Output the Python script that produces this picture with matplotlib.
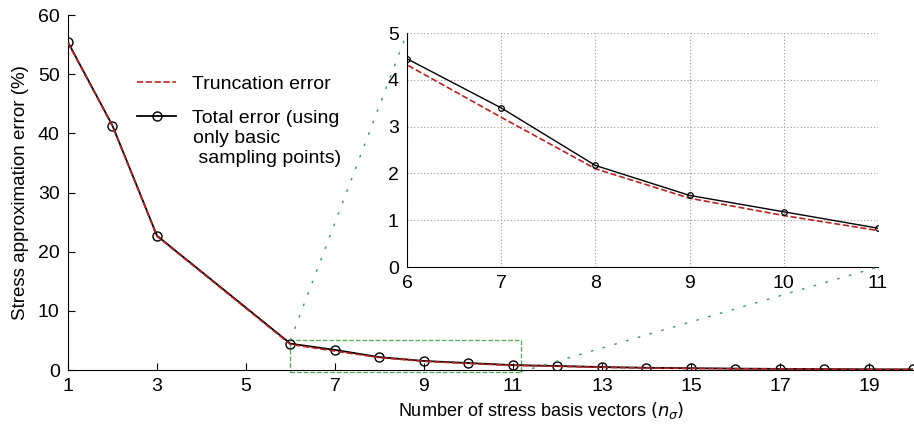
import numpy as np
import matplotlib.pyplot as plt
from matplotlib.patches import Rectangle, ConnectionPatch

plt.rcParams['font.family'] = ['Liberation Sans', 'DejaVu Sans']

n_sigma = [1, 2, 3, 6, 7, 8, 9, 10, 11, 12, 13, 14, 15, 16, 17, 18, 19, 20]
total_err = [55.4, 41.3, 22.7, 4.45, 3.4, 2.17, 1.53, 1.18, 0.83, 0.68, 0.5,
             0.38, 0.3, 0.24, 0.19, 0.15, 0.12, 0.1]
trunc_err = [55.3, 41.2, 22.6, 4.32, 3.2, 2.1, 1.47, 1.1, 0.78, 0.62, 0.45,
             0.34, 0.27, 0.21, 0.17, 0.13, 0.1, 0.08]
xticks_main = [1, 3, 5, 7, 9, 11, 13, 15, 17, 19]
yticks_main = [0, 10, 20, 30, 40, 50, 60]

fig = plt.figure(figsize=(9.14, 4.29), dpi=100)
ax = fig.add_axes([0.0744, 0.1375, 0.925, 0.8275])

ax.plot(n_sigma, total_err, '-', color='black', lw=1.3, marker='o', ms=6.5,
        mfc='none', mec='black', mew=1.0, zorder=3,
        label='Total error (using')
ax.plot(n_sigma, trunc_err, '--', color='#c0201e', lw=1.2, zorder=4,
        label='Truncation error')

ax.set_xlim(1, 20)
ax.set_ylim(0, 60)
ax.set_xticks(xticks_main)
ax.set_yticks(yticks_main)
ax.spines['top'].set_visible(False)
ax.spines['right'].set_visible(False)
ax.tick_params(direction='in', length=5, labelsize=14, pad=6)
ax.set_ylabel('Stress approximation error (%)', fontsize=13.5, labelpad=6)
ax.set_xlabel(r'Number of stress basis vectors $(n_\sigma)$', fontsize=13)
ax.xaxis.set_label_coords(0.56, -0.085)

h, l = ax.get_legend_handles_labels()
ax.legend([h[1], h[0]], [l[1], l[0]], loc='upper left', bbox_to_anchor=(0.061, 0.88),
          frameon=False, fontsize=14, handlelength=2.0, labelspacing=0.85,
          handletextpad=0.8)
# remaining lines of the second legend label
fig.text(193 / 914, 1 - 130 / 429, 'only basic\n sampling points)', fontsize=14,
         va='top', ha='left', linespacing=1.2)

# zoom box
ax.add_patch(Rectangle((6, -0.3), 5.18, 5.4, fill=False, ls='--', lw=0.9,
                       ec='#4caf50', zorder=2, clip_on=False))

axin = fig.add_axes([0.4453, 0.3776, 0.5153, 0.5454])
axin.plot(n_sigma, total_err, '-', color='black', lw=1.0, marker='o', ms=4,
          mfc='none', mec='black', mew=0.9, zorder=3)
axin.plot(n_sigma, trunc_err, '--', color='#c0201e', lw=1.2, zorder=2)
axin.set_xlim(6, 11)
axin.set_ylim(0, 5)
axin.set_xticks(range(6, 12))
axin.set_yticks(range(0, 6))
axin.grid(True, ls=(0, (1, 2)), color='#999999', lw=0.8)
axin.spines['top'].set_visible(False)
axin.spines['right'].set_visible(False)
axin.tick_params(direction='in', length=0, labelsize=14, pad=6)
axin.set_facecolor('white')

for xa, ya, xb, yb in [(6, 5.1, 0, 1), (11.18, -0.3, 1, 0)]:
    cp = ConnectionPatch(xyA=(xa, ya), coordsA=ax.transData,
                         xyB=(xb, yb), coordsB=axin.transAxes,
                         ls=(0, (1, 7)), lw=1.1, color='#3f9f5f', zorder=1)
    fig.add_artist(cp)

fig.savefig('out.png', dpi=100)
